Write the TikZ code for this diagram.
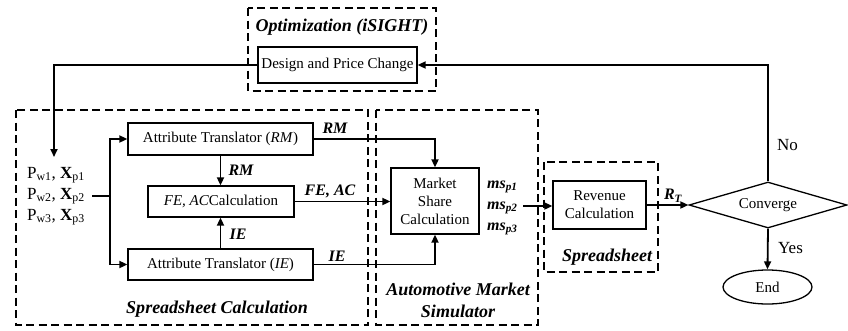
\documentclass[tikz,border=0pt]{standalone}
\usepackage{fontspec}
\setmainfont{Liberation Serif}
\usetikzlibrary{arrows.meta,shapes.geometric}
\begin{document}
\begin{tikzpicture}[x=1pt,y=-1pt,
  box/.style={draw,line width=1.3pt,inner sep=0pt,align=center,font=\fontsize{15}{18}\selectfont},
  group/.style={draw,line width=2.6pt,dash pattern=on 8pt off 4.5pt},
  conn/.style={line width=1.8pt},
  arr/.style={conn,-{Triangle[length=8pt,width=7pt]}},
  lbl/.style={font=\fontsize{16}{18}\selectfont\bfseries\itshape,inner sep=0pt},
  title/.style={font=\fontsize{18}{21}\selectfont\bfseries\itshape,inner sep=0pt,align=center},
  plain/.style={font=\fontsize{17}{19}\selectfont,inner sep=0pt}
]
\useasboundingbox (0,0) rectangle (848,330);

% dashed grouping frames
\draw[group] (248,8) rectangle (436,91);
\draw[group] (16,110) rectangle (368,325);
\draw[group] (376,110) rectangle (538,325);
\draw[group] (544,162) rectangle (658,272);

% frame titles
\node[title] (tOpt) at (342,27) {Optimization (iSIGHT)};
\node[title] (tSC) at (217,309) {Spreadsheet Calculation};
\node[title,align=center] (tAMS) at (458,300) {Automotive Market\\[1pt]Simulator};
\node[title] (tSS) at (607,257) {Spreadsheet};

% process boxes
\node[box,minimum width=159,minimum height=36] (dpc) at (337.5,65) {Design and Price Change};
\node[box,minimum width=185,minimum height=32] (atRM) at (220.5,139) {Attribute Translator (\textit{RM})};
\node[box,minimum width=146,minimum height=31] (fe) at (221,201.5) {\textit{FE, AC}Calculation};
\node[box,minimum width=185,minimum height=31] (atIE) at (220.5,264.5) {Attribute Translator (\textit{IE})};
\node[box,minimum width=88,minimum height=66] (ms) at (435,201) {Market\\Share\\Calculation};
\node[box,minimum width=93,minimum height=48] (rev) at (599.5,205) {Revenue\\Calculation};
\node[box,diamond,aspect=3.4,minimum width=158,minimum height=46] (conv) at (768,205) {Converge};
\node[box,ellipse,minimum width=89,minimum height=34] (end) at (767.5,287) {End};

% inputs
\node[plain,align=center] (inputs) at (56,196)
  {P\textsubscript{w1}, \textbf{X}\textsubscript{p1}\\[2pt]
   P\textsubscript{w2}, \textbf{X}\textsubscript{p2}\\[2pt]
   P\textsubscript{w3}, \textbf{X}\textsubscript{p3}};
\coordinate (inStart) at (92,196);
\coordinate (junc) at (110,196);
\coordinate (inTip) at (54,157);

% market share outputs
\node[lbl,align=left,anchor=west] (msout) at (487,208)
  {\textit{ms}\textsubscript{\textit{p1}}\\[3pt]\textit{ms}\textsubscript{\textit{p2}}\\[3pt]\textit{ms}\textsubscript{\textit{p3}}};
\coordinate (msStart) at (523,206);

% connectors
\draw[arr] (dpc.west) -| (inTip);
\draw[conn] (inStart) -- (junc);
\draw[arr] (junc) |- (atRM.west);
\draw[arr] (junc) |- (atIE.west);
\draw[arr] (atRM.south) -- (atRM.south |- fe.north);
\draw[arr] (atIE.north) -- (atIE.north |- fe.south);
\draw[arr] (atRM.east) -| (ms.north);
\draw[arr] (fe.east) -- (fe.east -| ms.west);
\draw[arr] (atIE.east) -| (ms.south);
\draw[arr] (msStart) -- (msStart -| rev.west);
\draw[arr] (rev.east) -- (conv.west);
\draw[arr] (conv.south) -- (end.north);
\draw[arr] (conv.north) |- (dpc.east);

% connector labels
\node[lbl] (lRM1) at (335,128) {RM};
\node[lbl] (lRM2) at (241,170) {RM};
\node[lbl] (lFE) at (330,191) {FE, AC};
\node[lbl] (lIE1) at (238,234) {IE};
\node[lbl] (lIE2) at (337,256) {IE};
\node[lbl] (lRT) at (673,196) {R\textsubscript{T}};
\node[plain] (lYes) at (790.5,248) {Yes};
\node[plain] (lNo) at (787.5,145) {No};
\end{tikzpicture}
\end{document}
